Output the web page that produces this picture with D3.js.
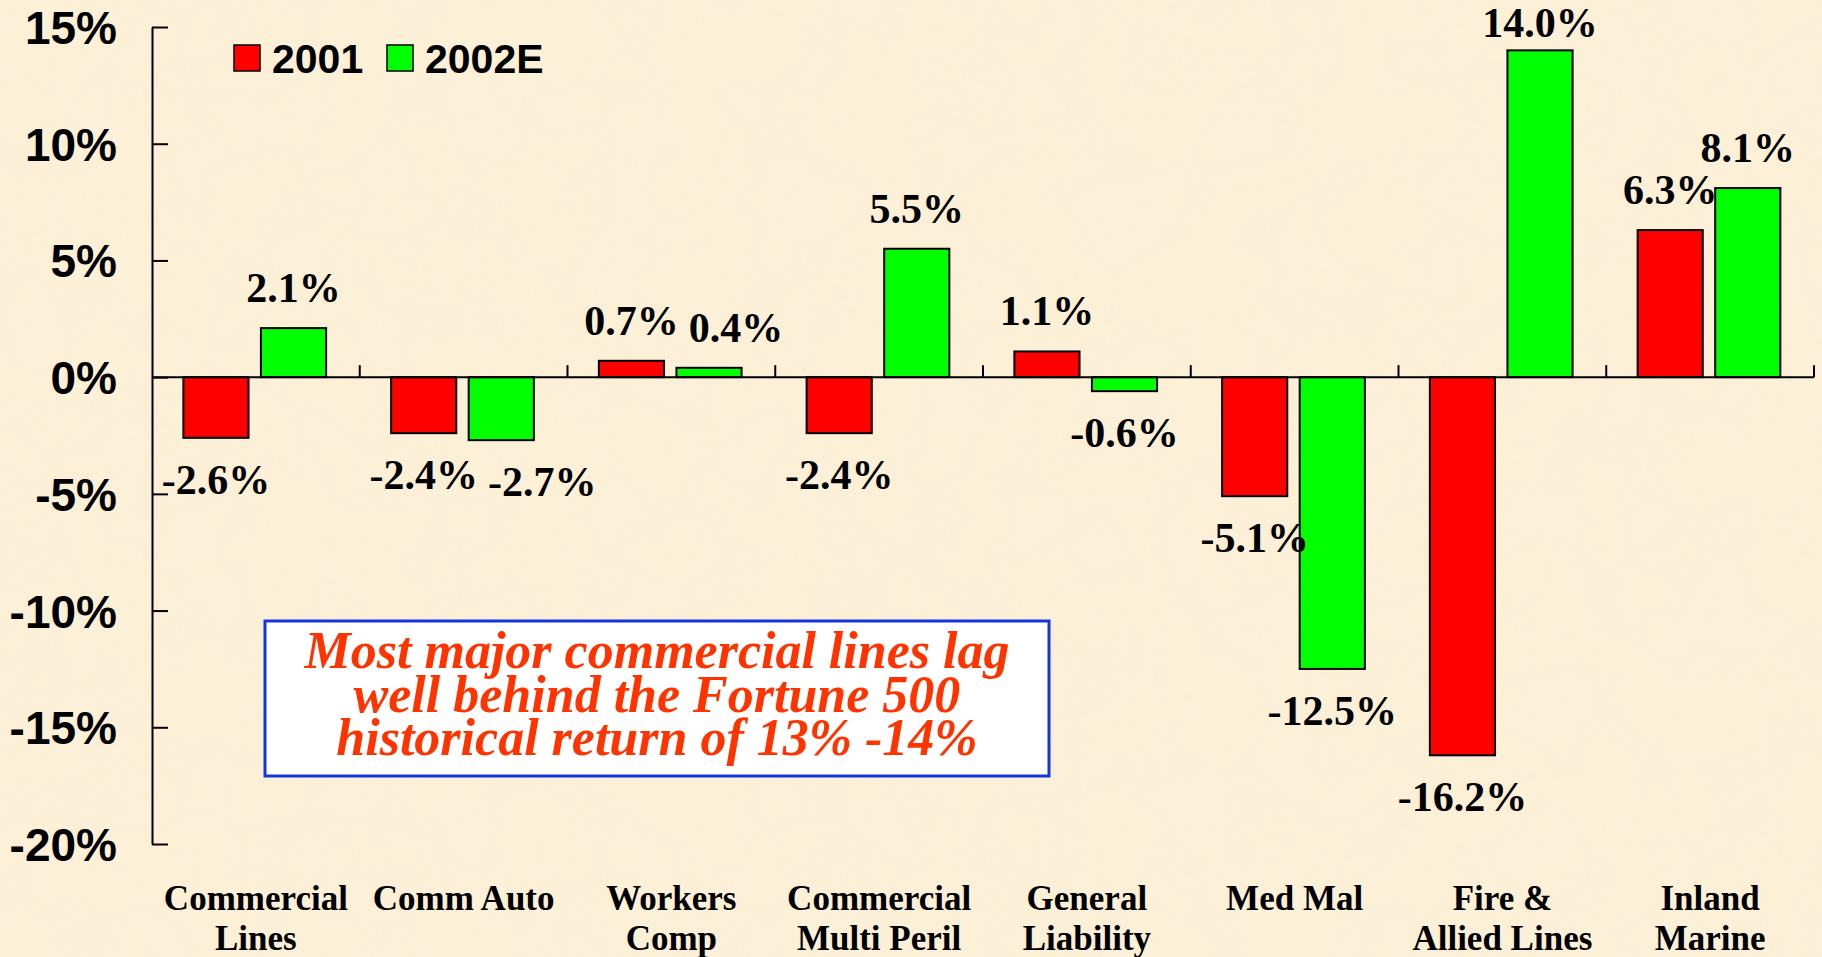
<!DOCTYPE html>
<html>
<head>
<meta charset="utf-8">
<script src="https://cdn.jsdelivr.net/npm/d3@7"></script>
<style>
  html, body { margin: 0; padding: 0; background: #fcefd6; }
  svg { display: block; }
</style>
</head>
<body>
<div id="chart"></div>
<script>
// categories, series and tick labels
var categories = ["Commercial Lines", "Comm Auto", "Workers Comp", "Commercial Multi Peril",
  "General Liability", "Med Mal", "Fire & Allied Lines", "Inland Marine"];
var categoryLines = [["Commercial", "Lines"], ["Comm Auto"], ["Workers", "Comp"], ["Commercial", "Multi Peril"],
  ["General", "Liability"], ["Med Mal"], ["Fire &", "Allied Lines"], ["Inland", "Marine"]];
var seriesNames = ["2001", "2002E"];
var values2001 = [-2.6, -2.4, 0.7, -2.4, 1.1, -5.1, -16.2, 6.3];
var values2002E = [2.1, -2.7, 0.4, 5.5, -0.6, -12.5, 14.0, 8.1];
var yTicks = [15, 10, 5, 0, -5, -10, -15, -20];
var noteLines = ["Most major commercial lines lag", "well behind the Fortune 500", "historical return of 13% -14%"];

var svgWidth = 1822;
var svgHeight = 957;
var colors = { "2001": "#ff0000", "2002E": "#00ff00" };

var svg = d3.select("#chart")
  .append("svg")
  .attr("width", svgWidth)
  .attr("height", svgHeight);

// parchment-ish background
var defs = svg.append("defs");
var paper = defs.append("filter")
  .attr("id", "paper")
  .attr("x", 0).attr("y", 0).attr("width", "100%").attr("height", "100%");
paper.append("feTurbulence")
  .attr("type", "fractalNoise")
  .attr("baseFrequency", 0.012)
  .attr("numOctaves", 3)
  .attr("seed", 4);
paper.append("feColorMatrix")
  .attr("type", "matrix")
  .attr("values", "0 0 0 0 0.93  0 0 0 0 0.86  0 0 0 0 0.70  0 0 0 0.35 -0.05");

svg.append("rect")
  .attr("width", svgWidth)
  .attr("height", svgHeight)
  .attr("fill", "#fcf0d7");
svg.append("rect")
  .attr("width", svgWidth)
  .attr("height", svgHeight)
  .attr("filter", "url(#paper)")
  .attr("opacity", 0.5);

var plot = { left: 152, right: 1814, top: 27, bottom: 844 };

// scales
var x = d3.scaleBand()
  .domain(categories)
  .range([plot.left, plot.right]);

var bw = x.bandwidth();
var xInner = d3.scaleBand()
  .domain(seriesNames)
  .range([bw * 0.151, bw * 0.838])
  .paddingInner(0.16);

var y = d3.scaleLinear()
  .domain([-20, 15])
  .range([plot.bottom, plot.top]);

// rows for bars
var rows = [];
categories.forEach(function(c, i) {
  rows.push({ cat: c, series: "2001", value: values2001[i] });
  rows.push({ cat: c, series: "2002E", value: values2002E[i] });
});

// y axis
var leftAxis = d3.axisLeft(y)
  .tickValues(yTicks)
  .tickSizeInner(-16)
  .tickSizeOuter(0)
  .tickPadding(35)
  .tickFormat(function(d) { return d + "%"; });

var yAxisG = svg.append("g")
  .attr("transform", `translate(${plot.left}, 0)`)
  .call(leftAxis);
yAxisG.selectAll("path, line").attr("stroke", "#000").attr("stroke-width", 2);
yAxisG.selectAll("text")
  .attr("font-family", "'Liberation Sans', Arial, sans-serif")
  .attr("font-weight", "bold")
  .attr("font-size", 46)
  .attr("fill", "#000")
  .attr("dy", "0.36em");

// bars
svg.append("g").selectAll("rect")
  .data(rows)
  .enter()
  .append("rect")
  .attr("x", d => x(d.cat) + xInner(d.series))
  .attr("y", d => y(Math.max(0, d.value)))
  .attr("width", xInner.bandwidth())
  .attr("height", d => Math.abs(y(d.value) - y(0)))
  .attr("fill", d => colors[d.series])
  .attr("stroke", "#000")
  .attr("stroke-width", 2);

// x axis line at zero with ticks at band edges
var zeroY = y(0);
svg.append("line")
  .attr("x1", plot.left)
  .attr("x2", plot.right)
  .attr("y1", zeroY)
  .attr("y2", zeroY)
  .attr("stroke", "#000")
  .attr("stroke-width", 2);

svg.append("g").selectAll("line")
  .data(categories)
  .enter()
  .append("line")
  .attr("x1", d => x(d) + bw)
  .attr("x2", d => x(d) + bw)
  .attr("y1", zeroY)
  .attr("y2", zeroY - 12)
  .attr("stroke", "#000")
  .attr("stroke-width", 2);

// data labels
var labels = svg.append("g").selectAll("text")
  .data(rows)
  .enter()
  .append("text")
  .attr("x", d => x(d.cat) + xInner(d.series) + xInner.bandwidth() / 2)
  .attr("y", function(d) {
    var yy = d.value >= 0 ? y(d.value) - 26 : y(d.value) + 56;
    return Math.max(yy, 37);
  })
  .attr("text-anchor", "middle")
  .attr("font-family", "'Liberation Serif', 'Times New Roman', serif")
  .attr("font-weight", "bold")
  .attr("font-size", 42)
  .attr("fill", "#000")
  .text(d => d.value.toFixed(1) + "%");

// push a 2002E label right when it collides with the 2001 label of the same category
var nodes = labels.nodes();
for (var i = 0; i < nodes.length; i += 2) {
  var a = nodes[i], b = nodes[i + 1];
  var ba = a.getBBox(), bb = b.getBBox();
  var ya = +a.getAttribute("y"), yb = +b.getAttribute("y");
  if (Math.abs(ya - yb) < 30 && bb.x < ba.x + ba.width + 10) {
    var shift = ba.x + ba.width + 10 - bb.x;
    b.setAttribute("x", +b.getAttribute("x") + shift);
  }
}

// category labels
var catG = svg.append("g").selectAll("text")
  .data(categories)
  .enter()
  .append("text")
  .attr("x", d => x(d) + bw / 2)
  .attr("y", 910)
  .attr("text-anchor", "middle")
  .attr("font-family", "'Liberation Serif', 'Times New Roman', serif")
  .attr("font-weight", "bold")
  .attr("font-size", 35)
  .attr("fill", "#000");

catG.each(function(d, i) {
  var t = d3.select(this);
  categoryLines[i].forEach(function(line, j) {
    t.append("tspan")
      .attr("x", x(d) + bw / 2)
      .attr("dy", j === 0 ? 0 : 40)
      .text(line);
  });
});

// legend
var legend = svg.append("g");
seriesNames.forEach(function(s, i) {
  var lx = [234, 387][i];
  legend.append("rect")
    .attr("x", lx)
    .attr("y", 45)
    .attr("width", 26)
    .attr("height", 26)
    .attr("fill", colors[s])
    .attr("stroke", "#000")
    .attr("stroke-width", 1.5);
  legend.append("text")
    .attr("x", lx + 38)
    .attr("y", 73)
    .attr("font-family", "'Liberation Sans', Arial, sans-serif")
    .attr("font-weight", "bold")
    .attr("font-size", 41)
    .attr("fill", "#000")
    .text(s);
});

// annotation box
var note = svg.append("g");
note.append("rect")
  .attr("x", 265)
  .attr("y", 621)
  .attr("width", 784)
  .attr("height", 155)
  .attr("fill", "#ffffff")
  .attr("stroke", "#1236dc")
  .attr("stroke-width", 3);

note.append("text")
  .attr("text-anchor", "middle")
  .attr("font-family", "'Liberation Serif', 'Times New Roman', serif")
  .attr("font-weight", "bold")
  .attr("font-style", "italic")
  .attr("font-size", 52)
  .attr("fill", "#ff3300")
  .selectAll("tspan")
  .data(noteLines)
  .enter()
  .append("tspan")
  .attr("x", 657)
  .attr("y", (d, i) => 668 + i * 43.5)
  .text(d => d);
</script>
</body>
</html>
